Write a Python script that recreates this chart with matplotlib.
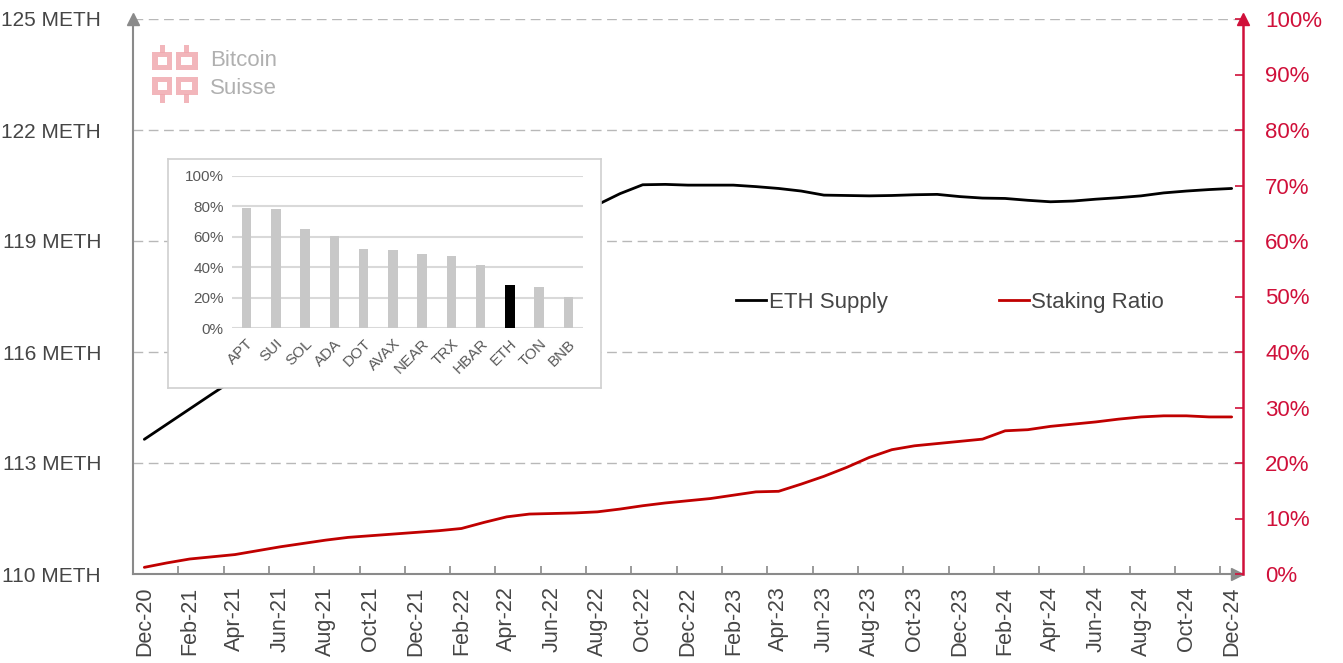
import numpy as np
import matplotlib.pyplot as plt
from matplotlib.patches import Rectangle

plt.rcParams['font.family'] = ['Liberation Sans', 'DejaVu Sans']

# ========== data ==========
x_labels = ["Dec-20", "Feb-21", "Apr-21", "Jun-21", "Aug-21", "Oct-21", "Dec-21",
            "Feb-22", "Apr-22", "Jun-22", "Aug-22", "Oct-22", "Dec-22",
            "Feb-23", "Apr-23", "Jun-23", "Aug-23", "Oct-23", "Dec-23",
            "Feb-24", "Apr-24", "Jun-24", "Aug-24", "Oct-24", "Dec-24"]

# monthly values, Dec-20 .. Dec-24 (49 points)
eth_supply = [113.64, 114.05, 114.46, 114.87, 115.27, 115.67, 116.07, 116.47, 116.85,
              117.15, 117.45, 117.75, 118.05, 118.35, 118.63, 118.90, 119.15, 119.40,
              119.62, 119.82, 119.98, 120.28, 120.52, 120.53, 120.51, 120.51, 120.51,
              120.47, 120.42, 120.35, 120.24, 120.23, 120.22, 120.23, 120.25, 120.26,
              120.20, 120.16, 120.15, 120.10, 120.06, 120.08, 120.13, 120.17, 120.22,
              120.30, 120.35, 120.39, 120.42]

staking_ratio = [1.2, 2.0, 2.7, 3.1, 3.5, 4.2, 4.9, 5.5, 6.1, 6.6, 6.9, 7.2, 7.5,
                 7.8, 8.2, 9.3, 10.3, 10.8, 10.9, 11.0, 11.2, 11.7, 12.3, 12.8, 13.2,
                 13.6, 14.2, 14.8, 14.9, 16.2, 17.6, 19.2, 21.0, 22.4, 23.1, 23.5, 23.9,
                 24.3, 25.8, 26.0, 26.6, 27.0, 27.4, 27.9, 28.3, 28.5, 28.5, 28.3, 28.3]

chains = ["APT", "SUI", "SOL", "ADA", "DOT", "AVAX", "NEAR", "TRX", "HBAR", "ETH", "TON", "BNB"]
chain_staking = [78.6, 78.0, 65.3, 60.5, 52.0, 51.3, 48.7, 47.6, 41.5, 28.2, 27.1, 20.5]

left_ticks = [110, 113, 116, 119, 122, 125]
right_ticks = [0, 10, 20, 30, 40, 50, 60, 70, 80, 90, 100]

# ========== style ==========
RED_LINE = '#c00000'
RED_AXIS = '#d0103a'
GRAY_AXIS = '#8a8a8a'
TEXT = '#454545'

fig = plt.figure(figsize=(13.43, 6.63), dpi=100)
ax = fig.add_axes([133/1343, 1 - 574/663, (1243-133)/1343, (574-19)/663])
ax2 = ax.twinx()

months = np.arange(len(eth_supply))
ax.plot(months, eth_supply, color='black', lw=2.0, solid_capstyle='round', zorder=3)
ax2.plot(months, staking_ratio, color=RED_LINE, lw=2.0, solid_capstyle='round', zorder=3)

ax.set_xlim(-0.5, len(eth_supply) - 0.5)
ax.set_ylim(110, 125)
ax2.set_ylim(0, 100)

# left axis
ax.set_yticks(left_ticks)
ax.set_yticklabels([f"{v} METH" for v in left_ticks], fontsize=15, color=TEXT)
ax.tick_params(axis='y', length=0, pad=23)
for v in left_ticks[1:]:
    ax.axhline(v, color='#b8b8b8', lw=1.0, dashes=(7, 4), zorder=1)

# bottom axis
ax.set_xticks(np.arange(0, len(eth_supply), 2))
ax.set_xticklabels(x_labels, rotation=90, fontsize=15.5, color=TEXT)
ax.set_xticks(np.arange(1.5, len(eth_supply), 2), minor=True)
ax.tick_params(axis='x', which='major', length=0, pad=9)
ax.tick_params(axis='x', which='minor', direction='in', length=6, color=GRAY_AXIS, width=1.2)

# right axis
ax2.set_yticks(right_ticks)
ax2.set_yticklabels([f"{v}%" for v in right_ticks], fontsize=16, color=RED_AXIS)
ax2.tick_params(axis='y', direction='in', length=6, color=RED_AXIS, width=1.2, pad=16)

for a in (ax, ax2):
    a.spines['top'].set_visible(False)
ax.spines['right'].set_visible(False)
ax2.spines['left'].set_visible(False)
ax2.spines['bottom'].set_visible(False)
ax.spines['left'].set_color(GRAY_AXIS)
ax.spines['bottom'].set_color(GRAY_AXIS)
ax.spines['left'].set_linewidth(1.5)
ax.spines['bottom'].set_linewidth(1.5)
ax2.spines['right'].set_color(RED_AXIS)
ax2.spines['right'].set_linewidth(1.8)

# axis arrows
ax.plot([0], [1], marker='^', ms=8, color=GRAY_AXIS, transform=ax.transAxes, clip_on=False, zorder=5)
ax.plot([0.995], [0], marker='>', ms=8, color=GRAY_AXIS, transform=ax.transAxes, clip_on=False, zorder=5)
ax2.plot([1], [1], marker='^', ms=8, color=RED_AXIS, transform=ax2.transAxes, clip_on=False, zorder=5)

# legend
h1, = ax.plot([], [], color='black', lw=2.0)
h2, = ax.plot([], [], color=RED_LINE, lw=2.0)
leg = ax.legend([h1, h2], ["ETH Supply", "Staking Ratio"], loc='center',
                bbox_to_anchor=(0.736, 0.49), ncol=2, frameon=False, fontsize=16,
                handlelength=1.35, handletextpad=0.1, columnspacing=5.0)
for t in leg.get_texts():
    t.set_color(TEXT)

# logo
logo_pink = '#f0a9b0'
for (x0, y0, w, h) in [(152, 52, 20, 18), (176, 52, 22, 18), (160, 45, 5, 8), (184, 45, 5, 8),
                       (152, 77, 20, 18), (176, 77, 22, 18), (160, 94, 5, 9), (184, 94, 5, 9)]:
    fig.patches.append(Rectangle((x0/1343, 1 - (y0+h)/663), w/1343, h/663,
                                 transform=fig.transFigure, color=logo_pink, alpha=0.85, lw=0))
for (x0, y0, w, h) in [(158, 57, 9, 8), (181, 57, 11, 8), (158, 82, 9, 8), (181, 82, 11, 8)]:
    fig.patches.append(Rectangle((x0/1343, 1 - (y0+h)/663), w/1343, h/663,
                                 transform=fig.transFigure, color='white', lw=0))
fig.text(210/1343, 1 - 61/663, "Bitcoin", fontsize=16, color='#b0b0b0', va='center')
fig.text(210/1343, 1 - 89/663, "Suisse", fontsize=16, color='#b0b0b0', va='center')

# ========== inset ==========
box = fig.add_axes([168/1343, 1 - 388/663, (601-168)/1343, (388-159)/663])
box.set_xticks([])
box.set_yticks([])
box.set_facecolor('white')
for s in box.spines.values():
    s.set_color('#d0d0d0')
    s.set_linewidth(1.2)

ins = fig.add_axes([232/1343, 1 - 328.3/663, (583-232)/1343, (328.3-175.7)/663])
ins.patch.set_alpha(0)
bar_colors = ['black' if c == 'ETH' else '#c8c8c8' for c in chains]
ins.bar(np.arange(len(chains)), chain_staking, width=0.32, color=bar_colors, zorder=3)
ins.set_xlim(-0.5, len(chains) - 0.5)
ins.set_ylim(0, 100)
ins.set_yticks([0, 20, 40, 60, 80, 100])
ins.set_yticklabels([f"{v}%" for v in [0, 20, 40, 60, 80, 100]], fontsize=11, color='#595959')
ins.set_xticks(np.arange(len(chains)))
ins.set_xticklabels(chains, rotation=45, ha='right', rotation_mode='anchor', fontsize=11, color='#595959')
ins.tick_params(length=0, pad=6)
ins.grid(axis='y', color='#d9d9d9', lw=1.5, zorder=0)
for s in ins.spines.values():
    s.set_visible(False)

fig.savefig('out.png', dpi=100, facecolor='white')
